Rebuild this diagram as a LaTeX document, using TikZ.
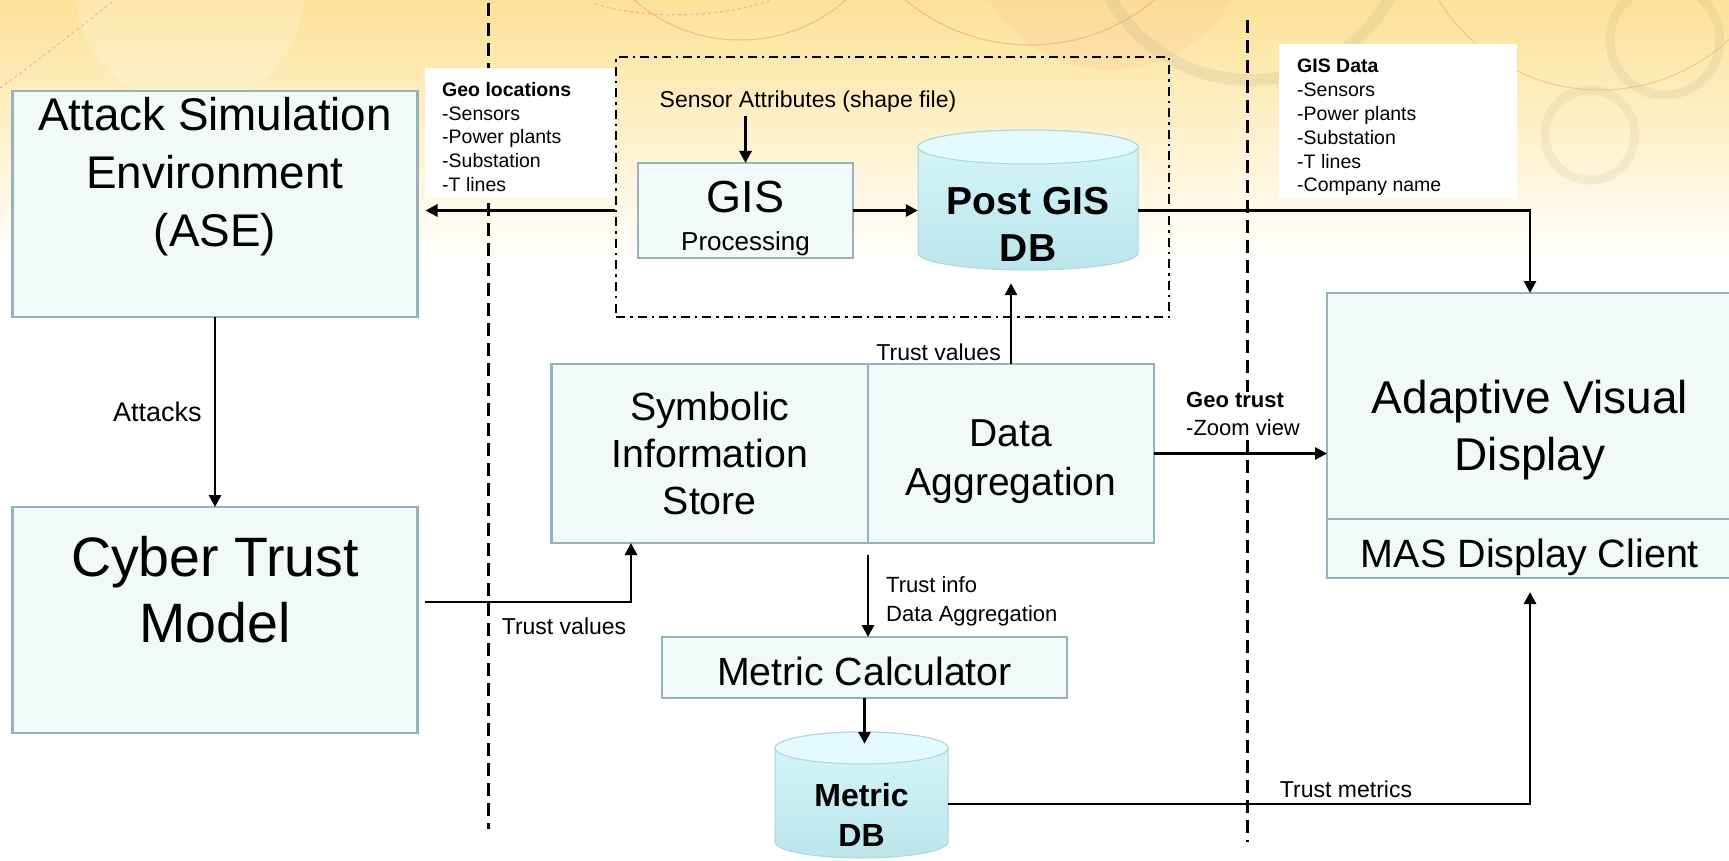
\documentclass[tikz,border=0pt]{standalone}
\usepackage{fontspec}
\setmainfont{Liberation Sans}
\usepackage{tikz}
\usetikzlibrary{arrows.meta,positioning}
\definecolor{boxfill}{RGB}{242,249,249}
\definecolor{boxline}{RGB}{150,178,186}
\definecolor{dbtop}{RGB}{228,251,253}
\definecolor{dbhigh}{RGB}{216,247,250}
\definecolor{dblow}{RGB}{186,229,235}
\definecolor{dbline}{RGB}{170,214,220}
\definecolor{bgtop}{RGB}{252,226,152}
\definecolor{bgmid}{RGB}{254,242,200}
\definecolor{deco}{RGB}{240,150,100}
\definecolor{cup}{RGB}{200,185,140}

\begin{document}
\begin{tikzpicture}[x=1pt,y=-1pt,
  box/.style={draw=boxline, fill=boxfill, line width=2.8pt, inner sep=0pt, outer sep=0pt, align=center},
  txt/.style 2 args={font=\fontsize{#1}{#2}\selectfont, align=center, inner sep=0pt},
  lbl/.style={font=\fontsize{23}{28}\selectfont, inner sep=0pt},
  listtxt/.style={font=\fontsize{19.5}{23.8}\selectfont, align=left, inner sep=0pt, anchor=north west},
  conn/.style={line width=2.9pt, -{Triangle[length=12pt,width=12pt]}},
  sepline/.style={line width=3pt, dash pattern=on 13pt off 7pt},
  grpbox/.style={draw, line width=2.4pt, dash pattern=on 9pt off 5pt on 2.5pt off 5pt, inner sep=0pt},
  dbbody/.style={top color=dbhigh, bottom color=dblow, draw=dbline, line width=1pt}]
\useasboundingbox (0,0) rectangle (1729,861);

% background
\fill[white] (0,0) rectangle (1729,861);
\shade[top color=bgtop, middle color=bgmid, bottom color=white] (0,0) rectangle (1729,265);
\begin{scope}
\clip (0,0) rectangle (1729,265);
\fill[white, opacity=.2] (190,-10) circle[radius=115];
\fill[orange!40, opacity=.3] (1110,-70) circle[radius=140];
\draw[deco, opacity=.55, line width=1pt] (740,-120) circle[radius=160];
\draw[deco, opacity=.55, line width=1pt] (1030,-150) circle[radius=195];
\draw[deco, opacity=.45, line width=1pt] (1600,-100) circle[radius=190];
\draw[cup, opacity=.25, line width=12pt] (1250,-80) circle[radius=160];
\draw[cup, opacity=.22, line width=9pt] (1665,40) circle[radius=55];
\draw[cup, opacity=.18, line width=9pt] (1590,135) circle[radius=45];
\draw[red!40, opacity=.7, line width=1.2pt, dashed] (0,88) .. controls (50,52) and (82,25) .. (115,0);
\draw[red!40, opacity=.7, line width=1.2pt, dashed] (595,4) .. controls (650,20) and (720,18) .. (772,0);
\end{scope}

\draw[sepline] (488,3) -- (488,829);
\draw[sepline] (1247,20) -- (1247,842);

\node[fill=white, minimum width=190pt, minimum height=129pt, inner sep=0pt] (geoloc) at (520,132.5) {};
\node[listtxt] (geoloctxt) at (442,82) {\textbf{Geo locations}\\-Sensors\\-Power plants\\-Substation\\-T lines};
\node[fill=white, minimum width=238pt, minimum height=155pt, inner sep=0pt] (gisdata) at (1398,121.5) {};
\node[listtxt] (gisdatatxt) at (1297,59) {\textbf{GIS Data}\\-Sensors\\-Power plants\\-Substation\\-T lines\\-Company name};

\node[grpbox, minimum width=553pt, minimum height=260pt] (gisgrp) at (892.5,187) {};

\node[box, minimum width=405pt, minimum height=226pt] (ase) at (215,204) {};
\node[txt={45.8}{58}] (asetxt) at (215,177) {Attack Simulation\\Environment\\(ASE)};
\node[box, minimum width=405pt, minimum height=226pt] (ctm) at (215,620) {};
\node[txt={55.5}{66}] (ctmtxt) at (215,590) {Cyber Trust\\Model};

\node[box, minimum width=215pt, minimum height=95pt] (gis) at (745.5,210.5) {};
\node[txt={45}{50}] (gistxt) at (745.5,197) {GIS};
\node[txt={26}{30}] (gisproc) at (745.5,243.5) {Processing};
\node[lbl] (sensattr) at (808,102) {Sensor Attributes (shape file)};

% Post GIS DB
\path[dbbody] (918,147) -- (918,253) arc[start angle=180, end angle=0, x radius=110, y radius=17]
  -- (1138,147) arc[start angle=0, end angle=-180, x radius=110, y radius=17] -- cycle;
\path[fill=dbtop, draw=dbline, line width=1pt] (1028,147) ellipse[x radius=110, y radius=17];
\node[minimum width=220pt, minimum height=140pt, inner sep=0pt] (pgis) at (1028,200) {};
\node[txt={39}{47}, font=\fontsize{39}{47}\selectfont\bfseries] (pgistxt) at (1028,224) {Post GIS\\DB};

\node[box, minimum width=316.5pt, minimum height=179pt, font=\fontsize{39.3}{47}\selectfont] (sis) at (709.75,453.5)
  {Symbolic\\Information\\Store};
\node[box, minimum width=286pt, minimum height=179pt, right=0pt of sis] (dagg) {};
\node[txt={39}{49}] (daggtxt) at ([yshift=-8pt]dagg.center) {Data\\Aggregation};
\node[box, minimum width=405pt, minimum height=61pt] (mcalc) at (864.5,667.5) {};
\node[txt={39.3}{44}] (mcalctxt) at ([yshift=-4pt]mcalc.center) {Metric Calculator};

% Metric DB
\path[dbbody] (775,748) -- (775,842) arc[start angle=180, end angle=0, x radius=86.5, y radius=16]
  -- (948,748) arc[start angle=0, end angle=-180, x radius=86.5, y radius=16] -- cycle;
\path[fill=dbtop, draw=dbline, line width=1pt] (861.5,748) ellipse[x radius=86.5, y radius=16];
\node[minimum width=173pt, minimum height=126pt, inner sep=0pt] (mdb) at (861.5,795) {};
\node[txt={32}{40}, font=\fontsize{32}{40}\selectfont\bfseries] (mdbtxt) at (861.5,814.5) {Metric\\DB};

\node[box, minimum width=406pt, minimum height=226pt] (avd) at (1530,406) {};
\node[txt={46}{57}] (avdtxt) at (1530,430) {Adaptive Visual\\Display};
\node[box, minimum width=406pt, minimum height=59pt, below=0pt of avd] (mas) {};
\node[txt={39.5}{44}] (mastxt) at ([yshift=-9pt]mas.center) {MAS Display Client};

\draw[conn] (ase.south) -- node[lbl, midway, left=12pt, font=\fontsize{27}{32}\selectfont] (attacks) {Attacks} (ctm.north);
\draw[conn, shorten <=7pt] ([yshift=18pt]ctm.east) -| ([xshift=79.5pt]sis.south west);
\node[lbl] (tvlow) at (564,626) {Trust values};
\draw[conn, shorten <=3pt] (gis.north |- sensattr.south) -- (gis.north);
\draw[conn] (gis.east) -- (gis.east -| pgis.west);
\draw[conn, shorten >=8pt] (gisgrp.west |- gis.east) -- (ase.east |- gis.east);
\draw[conn] (pgis.east |- gis.east) -| (avd.north);
\draw[conn, shorten >=13pt] (dagg.north) -- (dagg.north |- pgis.south);
\node[lbl, above left=3pt and 10pt of dagg.north] (tvup) {Trust values};
\draw[conn] ([yshift=-12pt]dagg.south west) -- (dagg.south west |- mcalc.north);
\node[lbl, font=\fontsize{22}{29}\selectfont, align=left, anchor=west] (tinfo) at (886,601) {Trust info\\Data Aggregation};
\draw[conn] (dagg.east) -- (dagg.east -| avd.west);
\node[lbl, fill=white, font=\fontsize{22}{28}\selectfont, align=left, anchor=west] (geotrust) at (1186,414)
  {\textbf{Geo trust}\\-Zoom view};
\draw[conn] (mcalc.south) -- ([yshift=-12pt]mcalc.south |- mdb.north);
\draw[conn] ([yshift=-9pt]mdb.east) -| ([yshift=-14pt]mas.south);
\node[lbl] (tmetrics) at (1346,789) {Trust metrics};
\end{tikzpicture}
\end{document}
